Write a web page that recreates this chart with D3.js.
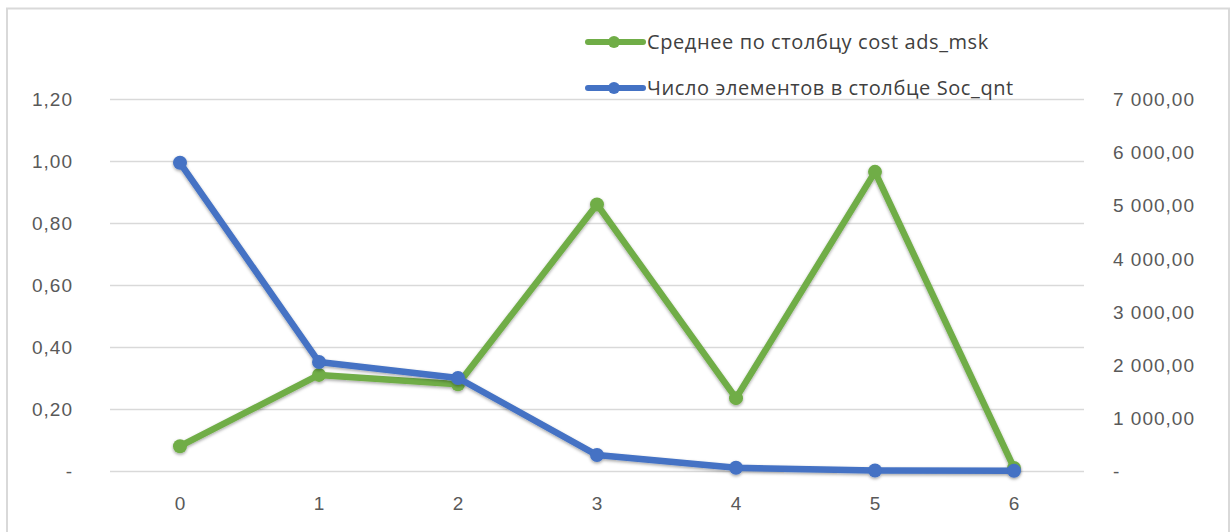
<!DOCTYPE html>
<html><head><meta charset="utf-8">
<script src="https://cdn.jsdelivr.net/npm/d3@7"></script>
<style>body{margin:0;background:#fff;} svg{display:block;font-family:"Open Sans",Lato,sans-serif;}</style>
</head><body>
<svg id="c" width="1231" height="532"></svg>
<script>
const categories = ["0","1","2","3","4","5","6"];
const costAdsMsk = [0.08, 0.31, 0.28, 0.86, 0.235, 0.965, 0.01];
const socQnt = [5800, 2050, 1750, 300, 60, 10, 5];
const leftTicks = [0, 0.2, 0.4, 0.6, 0.8, 1.0, 1.2];
const rightTicks = [0, 1000, 2000, 3000, 4000, 5000, 6000, 7000];
const seriesNames = ["Среднее по столбцу cost ads_msk", "Число элементов в столбце Soc_qnt"];
const colors = ["#70AD47", "#4472C4"];

const svg = d3.select("#c");
const defs = svg.append("defs");
const f = defs.append("filter").attr("id","sh").attr("x","-20%").attr("y","-20%").attr("width","140%").attr("height","140%");
f.append("feDropShadow").attr("dx",0).attr("dy",1.5).attr("stdDeviation",1.5).attr("flood-color","#000").attr("flood-opacity",0.35);

// frame
svg.append("rect").attr("x",7).attr("y",8.5).attr("width",1222).attr("height",540)
  .attr("fill","none").attr("stroke","#d9d9d9").attr("stroke-width",2);

const x = d3.scaleBand().domain(categories).range([110.5,1083.5]);
const yL = d3.scaleLinear().domain([0,1.2]).range([471,99]);
const yR = d3.scaleLinear().domain([0,7000]).range([471,99]);

const fmtL = v => v === 0 ? "-" : d3.format(".2f")(v).replace(".", ",");
const fmtR = v => v === 0 ? "-" : d3.format(",.2f")(v).replace(/,/g," ").replace(".", ",");

// gridlines
svg.append("g").selectAll("line").data(leftTicks).join("line")
  .attr("x1",110).attr("x2",1084).attr("y1",d=>Math.round(yL(d))+0.5).attr("y2",d=>Math.round(yL(d))+0.5)
  .attr("stroke","#d9d9d9").attr("stroke-width",1.5);

const tickStyle = sel => sel.attr("fill","#595959").style("font-size","19px").style("letter-spacing","1px");

// left axis
const gl = svg.append("g").attr("transform","translate(73,0)")
  .call(d3.axisLeft(yL).tickValues(leftTicks).tickFormat(fmtL).tickSize(0).tickPadding(0));
gl.select(".domain").remove();
gl.selectAll("text").call(tickStyle).attr("dy","0.35em");

// right axis
const gr = svg.append("g").attr("transform","translate(1113,0)")
  .call(d3.axisRight(yR).tickValues(rightTicks).tickFormat(fmtR).tickSize(0).tickPadding(0));
gr.select(".domain").remove();
gr.selectAll("text").call(tickStyle).attr("dy","0.35em");

// x axis
const gx = svg.append("g").attr("transform","translate(0,503)")
  .call(d3.axisBottom(x).tickSize(0).tickPadding(0));
gx.select(".domain").remove();
gx.selectAll("text").call(tickStyle).style("letter-spacing","0px").attr("y",0).attr("dy","0.35em");

const cx = d => x(d) + x.bandwidth()/2;

function drawSeries(vals, y, color){
  const g = svg.append("g").attr("filter","url(#sh)");
  const line = d3.line().x((d,i)=>cx(categories[i])).y(d=>y(d));
  g.append("path").datum(vals).attr("d",line).attr("fill","none").attr("stroke",color)
    .attr("stroke-width",6.5).attr("stroke-linejoin","round").attr("stroke-linecap","round");
  g.selectAll("circle").data(vals).join("circle")
    .attr("cx",(d,i)=>cx(categories[i])).attr("cy",d=>y(d)).attr("r",7).attr("fill",color);
}
drawSeries(costAdsMsk, yL, colors[0]);
drawSeries(socQnt, yR, colors[1]);

// legend
const lg = svg.append("g");
[0,1].forEach(i=>{
  const yy = 42 + i*46;
  lg.append("line").attr("x1",588).attr("x2",643).attr("y1",yy).attr("y2",yy)
    .attr("stroke",colors[i]).attr("stroke-width",6).attr("stroke-linecap","round");
  lg.append("circle").attr("cx",614).attr("cy",yy).attr("r",6).attr("fill",colors[i]);
  lg.append("text").attr("x",647).attr("y",yy).attr("dy","0.35em").attr("fill","#404040")
    .style("font-size","20px").style("letter-spacing","0.6px").text(seriesNames[i]);
});
</script>
</body></html>
